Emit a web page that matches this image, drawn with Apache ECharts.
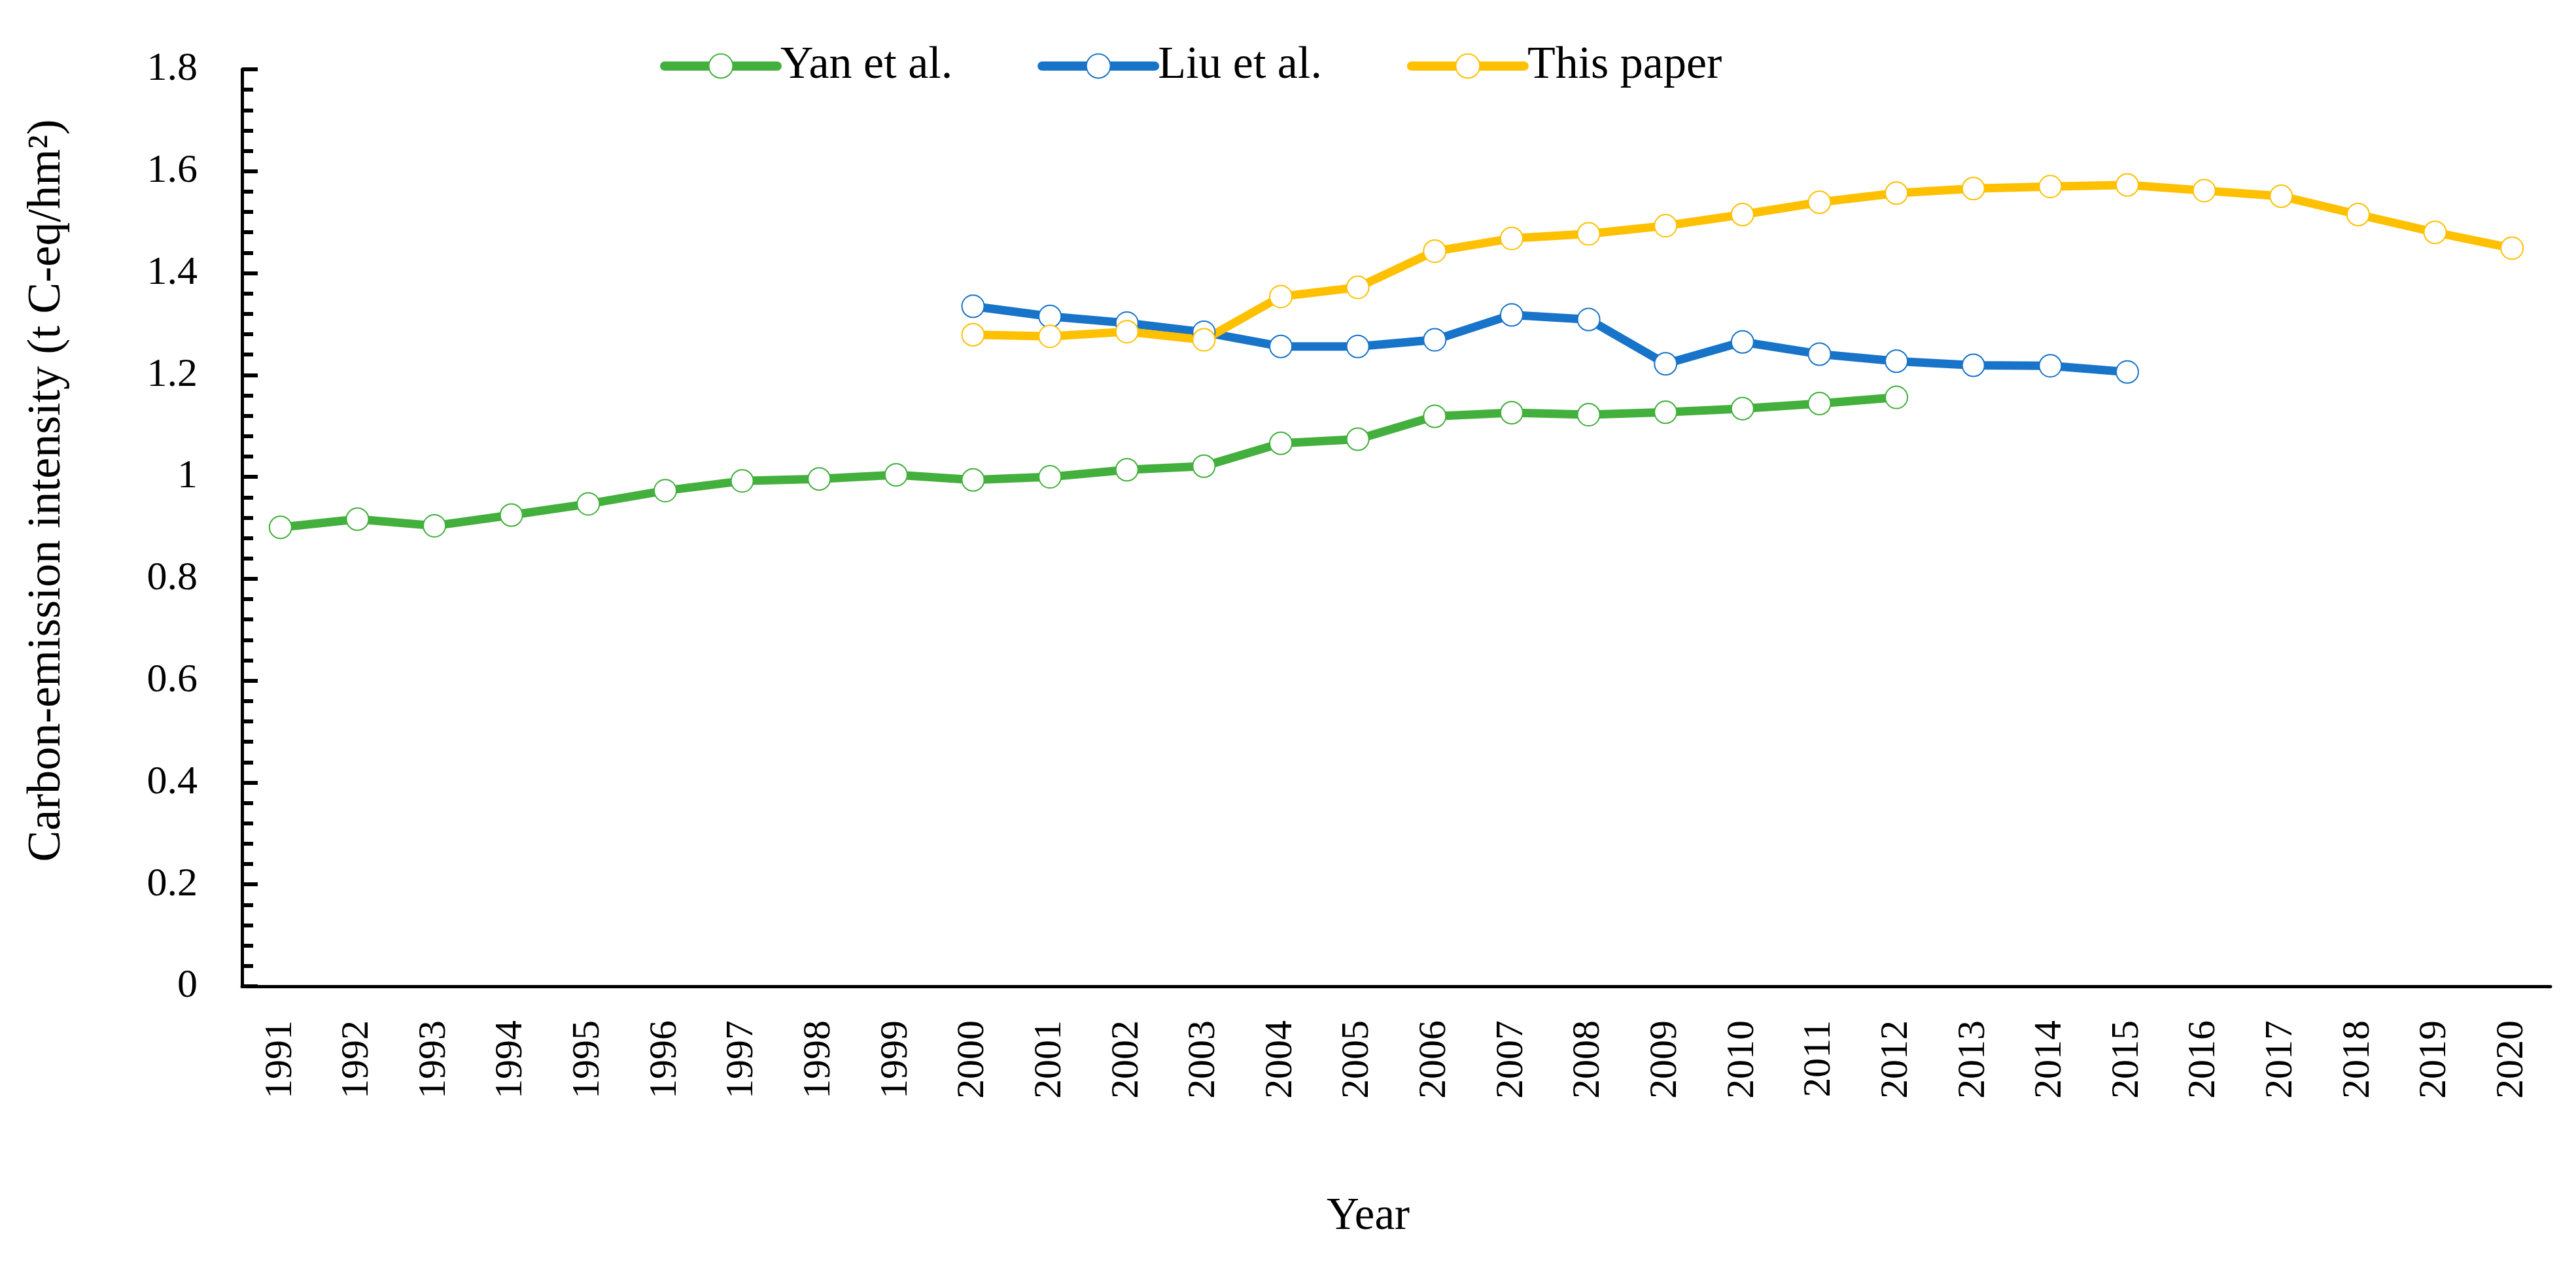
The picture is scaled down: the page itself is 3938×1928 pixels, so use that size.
<!DOCTYPE html>
<html>
<head>
<meta charset="utf-8">
<script src="https://cdn.jsdelivr.net/npm/echarts@6/dist/echarts.min.js"></script>
<style>
html,body{margin:0;padding:0;background:#fff;}
#chart{width:3938px;height:1928px;}
</style>
</head>
<body>
<div id="chart"></div>
<script>
var years = ['1991','1992','1993','1994','1995','1996','1997','1998','1999','2000',
             '2001','2002','2003','2004','2005','2006','2007','2008','2009','2010',
             '2011','2012','2013','2014','2015','2016','2017','2018','2019','2020'];
var yanValues = [0.901,0.917,0.904,0.925,0.947,0.973,0.992,0.996,1.004,0.994,
                 1.000,1.014,1.021,1.066,1.074,1.119,1.126,1.122,1.127,1.134,
                 1.144,1.156,null,null,null,null,null,null,null,null];
var liuValues = [null,null,null,null,null,null,null,null,null,1.335,
                 1.315,1.302,1.284,1.256,1.256,1.269,1.318,1.309,1.222,1.265,
                 1.241,1.227,1.219,1.218,1.206,null,null,null,null,null];
var paperValues = [null,null,null,null,null,null,null,null,null,1.279,
                   1.276,1.285,1.269,1.354,1.372,1.443,1.468,1.477,1.493,1.515,
                   1.539,1.557,1.566,1.570,1.573,1.562,1.551,1.515,1.480,1.449];
var seriesNames = ['Yan et al.','Liu et al.','This paper'];
var seriesColors = ['#43AF3C','#1874C8','#FFC000'];
var yTitle = 'Carbon-emission intensity (t C-eq/hm\u00B2)';
var xTitle = 'Year';

var font = 'Liberation Serif';
function mk(i, data){
  return {
    name: seriesNames[i], type: 'line', data: data,
    symbol: 'emptyCircle', symbolSize: 34, connectNulls: false,
    lineStyle: {width: 13, color: seriesColors[i]},
    itemStyle: {color: seriesColors[i], borderWidth: 6},
    emphasis: {disabled: true}
  };
}
var chart = echarts.init(document.getElementById('chart'));
chart.setOption({
  animation: false,
  backgroundColor: '#fff',
  legend: {
    left: 1004, top: 61,
    itemWidth: 172, itemHeight: 46, itemGap: 130,
    lineStyle: {width: 14, cap: 'round'},
    itemStyle: {borderWidth: 6},
    textStyle: {fontFamily: font, fontSize: 70, color: '#000'},
    data: seriesNames
  },
  grid: {left: 370, right: 39, top: 106, bottom: 420, containLabel: false},
  xAxis: {
    type: 'category', data: years, boundaryGap: true,
    name: xTitle, nameLocation: 'middle', nameGap: 318,
    nameTextStyle: {fontFamily: font, fontSize: 69, color: '#000', padding: [0,86,0,0]},
    axisLine: {lineStyle: {color: '#000', width: 5}},
    axisTick: {inside: true, length: 24, lineStyle: {color: '#000', width: 5}},
    axisLabel: {rotate: 90, margin: 52, fontFamily: font, fontSize: 60, color: '#000'},
    splitLine: {show: false}
  },
  yAxis: {
    type: 'value', min: 0, max: 1.8, interval: 0.2,
    name: yTitle, nameLocation: 'middle', nameGap: 262, nameRotate: 90,
    nameTextStyle: {fontFamily: font, fontSize: 72, color: '#000', padding: [0,0,0,114]},
    axisLine: {show: true, lineStyle: {color: '#000', width: 5}},
    axisTick: {show: true, inside: true, length: 24, lineStyle: {color: '#000', width: 6}},
    minorTick: {show: true, splitNumber: 5, length: 17, lineStyle: {color: '#000', width: 6}},
    axisLabel: {margin: 68, fontFamily: font, fontSize: 62, color: '#000'},
    splitLine: {show: false}, minorSplitLine: {show: false}
  },
  series: [mk(0, yanValues), mk(1, liuValues), mk(2, paperValues)]
});
</script>
</body>
</html>
